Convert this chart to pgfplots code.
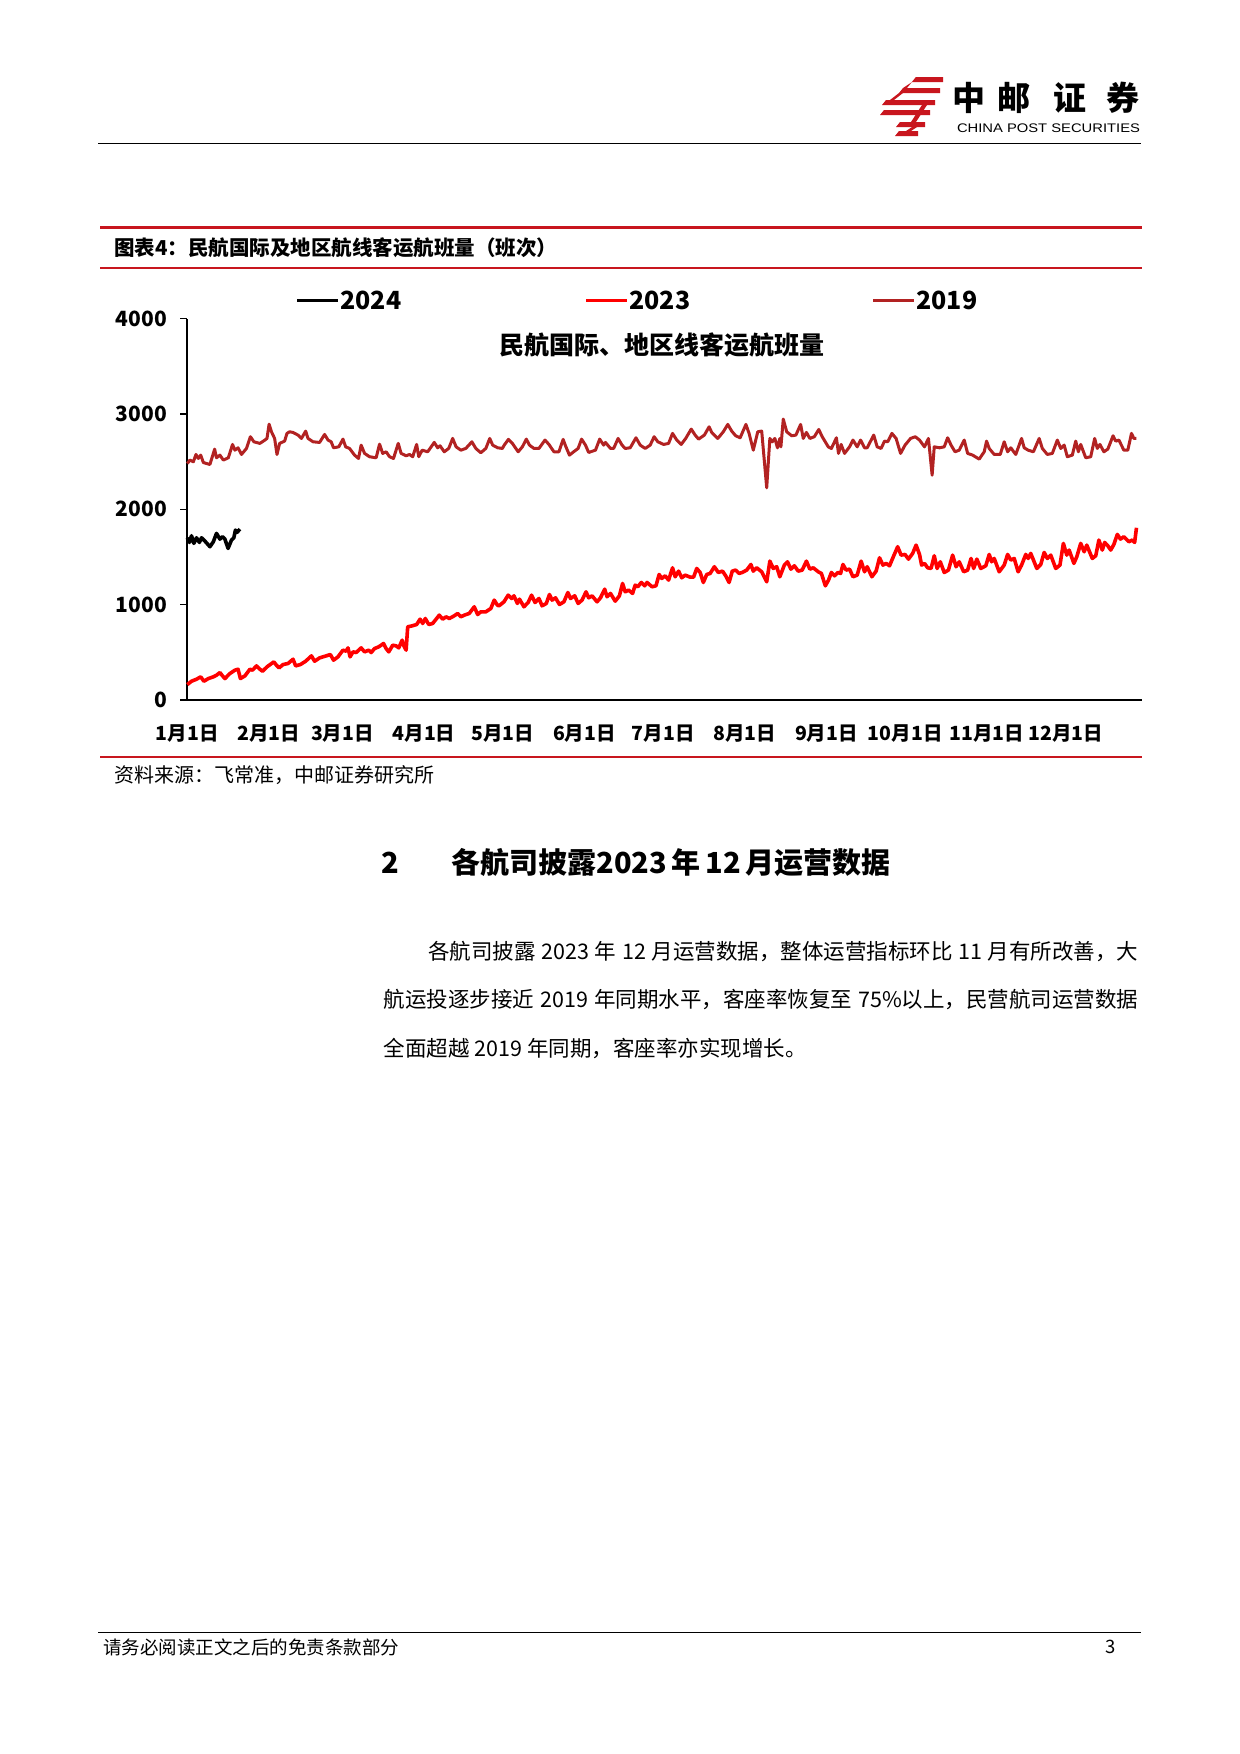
\documentclass[border=0pt]{standalone}
\usepackage{fontspec}
\setmainfont{Noto Sans CJK SC}
\newfontfamily\arialfont{Liberation Sans}
\usepackage{pgfplots}
\pgfplotsset{compat=1.18}
\XeTeXlinebreaklocale "zh"
\XeTeXlinebreakskip=0pt plus 3pt minus 0.5pt
\newlength\px
\setlength\px{0.169355mm}
\newcommand\fs[1]{\fontsize{#1\px}{#1\px}\selectfont}
\definecolor{hdred}{RGB}{200,22,30}
\definecolor{c2019}{RGB}{178,34,34}
\definecolor{c2023}{RGB}{255,0,0}

\begin{document}
\begin{tikzpicture}[x=\px,y=-\px]
\path[use as bounding box, fill=white] (0,0) rectangle (1240,1754);

% header
\begin{scope}[hdred]
\fill (916,77) -- (943,77) -- (943,82) -- (912,82) -- cycle;
\fill (903,88) -- (940,88) -- (940,93) -- (899,93) -- cycle;
\fill (912,82) -- (916,77) -- (907,88) -- (903,88) -- cycle;
\fill (886,100) -- (935,100) -- (935,105) -- (882,105) -- cycle;
\fill (899,93) -- (903,93) -- (894,100) -- (890,100) -- cycle;
\fill (884,110) -- (930,110) -- (930,115) -- (880,115) -- cycle;
\fill (900,122) -- (925,122) -- (925,127) -- (896,127) -- cycle;
\fill (899,131) -- (918,131) -- (918,136) -- (895,136) -- cycle;
\fill (922,105) -- (927,105) -- (916,122) -- (911,122) -- cycle;
\fill (912,127) -- (917,127) -- (911,131) -- (906,131) -- cycle;
\end{scope}
\foreach \ch/\xx in {中/969,邮/1014,证/1070,券/1123}
  \node[font=\fs{33}\bfseries, inner sep=0] at (\xx,98) {\ch};
\node[inner sep=0] at (1048.5,128.5) {\resizebox{183\px}{8.7\px}{\arialfont CHINA POST SECURITIES}};
\draw[black, line width=1.3\px] (98,143.5) -- (1141,143.5);

% figure frame
\draw[hdred, line width=3\px] (100,227) -- (1142,227);
\node[anchor=west, font=\fs{20.5}\bfseries, inner sep=0] at (114,248) {图表4：民航国际及地区航线客运航班量（班次）};
\draw[hdred, line width=1.3\px] (100,268) -- (1142,268);

\begin{axis}[
  at={(187.3\px,-700\px)}, anchor=south west, scale only axis,
  width=954.7\px, height=381.3\px,
  xmin=0, xmax=363, ymin=0, ymax=4000,
  axis x line*=bottom, axis y line*=left,
  axis line style={black, line width=2\px, -},
  xtick={0,31,59,90,120,151,181,212,243,273,304,334},
  xticklabels={1月1日,2月1日,3月1日,4月1日,5月1日,6月1日,7月1日,8月1日,9月1日,10月1日,11月1日,12月1日},
  x tick style={draw=none},
  ytick={0,1000,2000,3000,4000},
  y tick style={black, line width=1.5\px},
  tick align=outside, major tick length=7\px,
  xticklabel style={font=\fs{19.5}\bfseries, yshift=-10\px},
  yticklabel style={font=\fs{21}\bfseries, xshift=-6\px},
  /pgf/number format/assume math mode=true,
  /pgf/number format/1000 sep={},
  clip=false,
]
\addplot[c2019, line width=3\px, line join=round] coordinates {
(0,2481) (1.0,2517) (2.3,2499) (3.3,2576) (4.2,2534) (5.1,2569) (6.1,2492) (7.3,2481) (8.6,2471)
(10.4,2632) (11.1,2541) (12.4,2569) (13.7,2517) (15.6,2541) (17.2,2681) (18.1,2621) (19.3,2646)
(20.6,2576) (22.5,2639) (24.0,2762) (25.3,2709) (27.6,2692) (29.5,2727) (30.3,2744) (31.1,2894)
(32.0,2814) (33.2,2744) (34.1,2576) (35.1,2692) (37.0,2716) (37.9,2797) (38.9,2814) (40.2,2807)
(42.1,2779) (43.4,2744) (45.0,2821) (45.9,2744) (47.8,2709) (50.3,2702) (52.2,2786) (53.5,2727)
(54.7,2709) (55.6,2646) (57.6,2656) (59.2,2737) (60.2,2656) (61.7,2639) (63.6,2569) (65.1,2534)
(66.1,2674) (67.4,2587) (69.3,2552) (71.8,2541) (73.1,2684) (74.3,2587) (75.6,2604) (76.9,2552)
(78.4,2534) (80.2,2692) (81.3,2587) (83.2,2562) (84.5,2576) (85.7,2552) (87.2,2681) (88.0,2552)
(89.3,2621) (91.4,2604) (93.9,2702) (95.2,2646) (96.1,2667) (97.7,2604) (99.4,2639) (100.9,2744)
(102.2,2656) (104.0,2621) (105.9,2639) (108.2,2709) (109.7,2639) (111.6,2594) (113.5,2639)
(115.0,2744) (116.1,2674) (118.0,2646) (119.8,2639) (120.5,2674) (122.1,2734) (123.6,2692)
(125.8,2604) (127.4,2656) (128.9,2737) (130.1,2674) (131.8,2639) (133.7,2639) (136.0,2727)
(137.5,2681) (139.4,2604) (141.3,2604) (142.9,2734) (143.8,2667) (145.3,2569) (146.9,2604)
(148.6,2639) (149.9,2737) (151.4,2674) (152.6,2597) (155.2,2621) (156.8,2737) (158.3,2674)
(159.0,2702) (160.9,2639) (162.1,2639) (163.8,2744) (165.3,2674) (166.5,2639) (168.4,2646)
(170.6,2751) (172.2,2674) (174.1,2639) (176.0,2674) (177.5,2762) (178.9,2709) (181.1,2681)
(183.0,2692) (184.5,2797) (186.1,2727) (187.8,2681) (189.5,2744) (191.6,2842) (193.1,2779)
(194.4,2737) (196.6,2779) (198.4,2866) (199.4,2807) (201.7,2744) (203.8,2814) (205.5,2891)
(207.0,2821) (208.5,2772) (210.2,2751) (212.4,2891) (213.6,2797) (215.2,2621) (216.9,2814)
(218.4,2821) (220.3,2226) (221.5,2744) (222.4,2709) (223.4,2744) (224.4,2646) (225.3,2744)
(225.7,2656) (226.6,2947) (227.9,2814) (229.8,2772) (231.4,2779) (233.2,2891) (234.2,2744)
(235.4,2807) (236.7,2744) (238.4,2762) (240.1,2838) (241.4,2762) (243.7,2656) (244.9,2639)
(246.8,2751) (247.6,2587) (248.6,2681) (249.9,2587) (251.8,2656) (253.1,2727) (254.7,2656)
(256.0,2727) (257.5,2646) (258.5,2646) (261.0,2779) (262.3,2656) (263.8,2639) (265.1,2716)
(266.3,2709) (267.9,2797) (269.5,2744) (271.2,2587) (272.9,2674) (275.0,2744) (276.8,2762)
(278.4,2727) (280.3,2656) (281.8,2744) (283.2,2359) (284.0,2656) (286.0,2646) (287.8,2656)
(289.1,2751) (290.4,2674) (291.9,2604) (293.5,2621) (295.4,2727) (296.7,2587) (298.6,2569)
(301.1,2527) (303.0,2604) (303.9,2716) (304.9,2639) (306.8,2576) (309.1,2576) (310.6,2709)
(311.9,2604) (313.1,2646) (315.0,2576) (317.2,2744) (318.2,2646) (319.7,2621) (321.7,2604)
(323.9,2744) (325.1,2639) (327.0,2576) (328.9,2587) (330.8,2727) (332.1,2639) (333.4,2674)
(334.6,2552) (336.5,2569) (337.8,2716) (338.8,2604) (339.7,2681) (341.6,2541) (343.5,2552)
(345.0,2744) (346.0,2639) (347.0,2681) (348.5,2604) (350.0,2632) (352.0,2772) (353.0,2716)
(354.2,2727) (356.1,2621) (357.6,2621) (359.0,2797) (359.9,2744) (360.9,2744)
};
\addplot[c2023, line width=3.6\px, line join=round] coordinates {
(0,162) (1.6,197) (3.5,218) (5.1,243) (6.3,197) (8.0,225) (9.9,243) (11.1,260) (12.4,288)
(13.4,253) (14.3,225) (16.2,278) (18.1,313) (19.3,323) (20.2,225) (21.9,253) (23.8,323)
(24.8,313) (26.3,358) (27.6,323) (28.6,302) (30.3,348) (32.9,400) (33.9,365) (34.9,337)
(36.4,372) (38.3,383) (40.2,428) (41.2,358) (43.0,372) (45.0,407) (47.2,463) (48.4,407)
(50.3,442) (52.8,463) (54.4,477) (55.6,418) (57.3,453) (59.2,523) (60.4,512) (61.1,547)
(61.9,453) (63.0,505) (64.2,498) (66.1,547) (67.4,505) (69.0,523) (69.9,498) (71.2,540)
(72.8,558) (73.7,575) (74.6,593) (75.6,540) (76.6,505) (78.1,575) (79.4,568) (80.4,547)
(81.7,628) (82.2,575) (83.2,523) (83.8,768) (85.5,778) (87.2,792) (88.5,848) (89.5,803)
(90.5,855) (91.8,792) (93.3,803) (95.8,890) (97.1,848) (98.4,873) (99.6,855) (101.5,883)
(102.8,908) (104.0,873) (105.3,890) (107.2,908) (109.1,978) (110.4,897) (111.6,925) (113.5,925)
(115.4,960) (116.7,1048) (117.9,995) (118.5,988) (120.4,1030) (122.0,1100) (123.3,1065)
(124.2,1093) (125.5,1013) (126.3,1058) (128.0,978) (129.6,1023) (130.9,1100) (132.2,1023)
(133.7,1065) (134.9,988) (136.5,1013) (137.7,1107) (138.7,1048) (140.0,1072) (141.5,1002)
(143.2,1030) (144.7,1128) (145.7,1065) (147.3,1093) (148.6,1013) (150.1,1048) (151.6,1135)
(152.6,1072) (153.9,1093) (155.8,1030) (157.1,1072) (158.7,1163) (159.6,1083) (160.9,1118)
(162.7,1037) (164.3,1093) (165.5,1223) (166.5,1135) (167.8,1153) (169.3,1118) (170.3,1205)
(171.3,1188) (172.6,1233) (173.9,1198) (174.8,1233) (176.7,1188) (178.2,1198) (179.4,1317)
(180.4,1275) (181.7,1303) (183.0,1258) (184.5,1387) (185.5,1293) (186.8,1352) (188.0,1282)
(189.3,1310) (191.2,1289) (192.5,1289) (193.7,1380) (195.0,1338) (196.2,1233) (197.5,1317)
(198.8,1328) (200.4,1398) (201.9,1338) (203.5,1352) (204.7,1303) (206.0,1233) (207.2,1352)
(208.5,1363) (209.8,1328) (211.0,1338) (212.7,1363) (214.3,1422) (215.2,1352) (216.5,1387)
(218.4,1345) (220.3,1240) (221.5,1457) (222.8,1380) (224.1,1398) (225.3,1293) (227.0,1415)
(228.2,1450) (229.5,1373) (230.8,1408) (232.3,1352) (233.8,1363) (235.4,1457) (236.7,1373)
(238.0,1387) (239.9,1345) (241.1,1328) (242.6,1198) (243.8,1258) (244.9,1338) (246.1,1303)
(247.4,1338) (248.4,1328) (249.3,1422) (250.5,1363) (251.8,1373) (253.1,1293) (254.7,1310)
(256.2,1457) (257.5,1345) (258.5,1398) (260.3,1293) (261.9,1352) (263.2,1492) (264.5,1415)
(265.7,1433) (267.0,1408) (268.6,1513) (270.1,1608) (271.4,1520) (272.9,1527) (274.2,1478)
(275.8,1538) (277.1,1625) (278.4,1527) (279.2,1415) (280.3,1433) (281.5,1387) (282.8,1380)
(284.0,1513) (285.1,1380) (286.3,1450) (287.8,1338) (289.4,1363) (291.0,1520) (292.3,1398)
(293.5,1450) (295.2,1345) (296.7,1363) (298.0,1485) (299.0,1380) (300.2,1478) (301.7,1380)
(303.6,1408) (304.9,1527) (305.8,1450) (306.8,1485) (308.7,1345) (310.6,1415) (311.9,1527)
(313.1,1468) (314.4,1485) (315.9,1345) (317.2,1415) (318.8,1527) (319.7,1485) (320.7,1538)
(323.0,1380) (324.5,1422) (325.8,1548) (327.0,1485) (328.3,1520) (330.2,1380) (331.8,1415)
(333.1,1643) (334.4,1520) (335.3,1573) (337.1,1433) (338.2,1503) (339.7,1643) (341.0,1555)
(342.0,1625) (344.1,1485) (345.4,1513) (346.6,1678) (347.9,1573) (348.8,1653) (350.0,1618)
(351.1,1573) (352.3,1632) (353.6,1737) (354.8,1688) (356.1,1713) (358.0,1660) (359.3,1678)
(360.2,1653) (360.9,1807)
};
\addplot[black, line width=3.6\px, line join=round] coordinates {
(0,1702) (0.8,1653) (1.6,1723) (2.5,1643) (3.5,1702) (4.6,1653) (5.4,1702) (6.7,1667)
(8.6,1608) (9.9,1660) (11.1,1748) (12.4,1688) (13.4,1713) (14.3,1688) (15.5,1590) (16.8,1678)
(17.7,1702) (18.3,1783) (18.9,1758) (20.0,1793)
};
\end{axis}

% legend and chart title
\foreach \col/\xa/\lab in {black/297/2024,c2023/586/2023,c2019/873/2019}{
  \draw[\col, line width=3\px] (\xa,300) -- ++(41,0);
  \node[anchor=west, inner sep=0, font=\fs{25}\bfseries] at (\xa+43,300) {\lab};
}
\node[font=\fs{25}\bfseries, inner sep=0] at (662,345) {民航国际、地区线客运航班量};

\draw[hdred, line width=1.3\px] (100,757) -- (1142,757);
\node[anchor=west, font=\fs{20}, inner sep=0] at (114,775) {资料来源：飞常准，中邮证券研究所};

% section heading and body
\node[anchor=west, font=\fs{29}\bfseries, inner sep=0] at (381,863) {2};
\node[anchor=west, font=\fs{29}\bfseries, inner sep=0] at (451,863) {各航司披露2023\,年\,12\,月运营数据};
\node[anchor=west, font=\fs{21.5}, inner sep=0] at (428,951.5)
  {\hbox to 710\px{各航司披露 2023 年 12 月运营数据，整体运营指标环比 11 月有所改善，大}};
\node[anchor=west, font=\fs{21.5}, inner sep=0] at (383.5,999.6)
  {\hbox to 754.5\px{航运投逐步接近 2019 年同期水平，客座率恢复至 75\%以上，民营航司运营数据}};
\node[anchor=west, font=\fs{21.5}, inner sep=0] at (383.5,1048.8)
  {全面超越 2019 年同期，客座率亦实现增长。};

% footer
\draw[black, line width=1.3\px] (98,1632.5) -- (1141,1632.5);
\node[anchor=west, font=\fs{18.5}, inner sep=0] at (103,1647) {请务必阅读正文之后的免责条款部分};
\node[font=\fs{18.5}, inner sep=0] at (1111,1647) {3};
\end{tikzpicture}
\end{document}
